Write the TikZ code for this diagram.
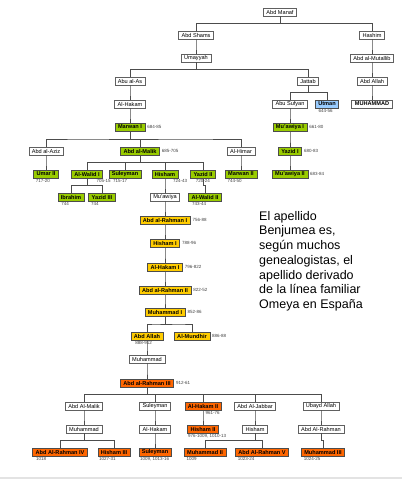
\documentclass[tikz,border=0pt]{standalone}
\usepackage{fontspec}
\setmainfont{Liberation Sans}
\usetikzlibrary{calc}
\definecolor{omeyagreen}{HTML}{99CC00}
\definecolor{emirgold}{HTML}{FFCC00}
\definecolor{califaorange}{HTML}{FF6600}
\definecolor{rashidblue}{HTML}{99CCFF}
\begin{document}
\begin{tikzpicture}[
  x=1pt, y=-1pt,
  person/.style={rectangle, draw=gray!75!black, fill=white, line width=0.5pt,
                 font=\fontsize{5.6}{6}\selectfont, inner xsep=3pt, inner ysep=0pt, minimum height=8pt},
  ruler/.style={person, draw=black!70, font=\fontsize{5.6}{6}\selectfont\bfseries},
  umayyad/.style={ruler, fill=omeyagreen},
  emir/.style={ruler, fill=emirgold},
  caliph/.style={ruler, fill=califaorange},
  rashid/.style={ruler, fill=rashidblue},
  years/.style={font=\fontsize{4.5}{5}\selectfont, text=black!75, inner sep=0.5pt},
  kin/.style={draw=black!70, line width=0.9pt},
  note/.style={font=\fontsize{12.5}{14.7}\selectfont, align=left, inner sep=0pt},
]
\useasboundingbox (0,0) rectangle (402,480);

% --- Quraysh ---
\node[person] (manaf) at (280,12) {Abd Manaf};
\node[person] (shams) at (196,35) {Abd Shams};
\node[person] (hashim) at (372,35) {Hashim};
\node[person] (umayyah) at (196,58) {Umayyah};
\node[person] (mutallib) at (372,58) {Abd al-Mutallib};
\node[person] (abuas) at (130,81) {Abu al-As};
\node[person] (jattab) at (308,81) {Jattab};
\node[person] (abdallahp) at (372,81) {Abd Allah};
\node[person] (hakam) at (130,104) {Al-Hakam};
\node[person] (sufyan) at (290,104) {Abu Sufyan};
\node[rashid] (utman) at (327,104) {Utman};
\node[person, line width=0.8pt, font=\fontsize{5.6}{6}\selectfont\bfseries] (muhammad) at (372,104) {MUHAMMAD};

% --- Omeyas de Damasco ---
\node[umayyad] (marwan1) at (130,127) {Marwan I};
\node[umayyad] (muawiya1) at (290,127) {Mu'awiya I};
\node[person] (abdaziz) at (46,151) {Abd al-Aziz};
\node[umayyad] (malik) at (140,151) {Abd al-Malik};
\node[person] (himar) at (241,151) {Al-Himar};
\node[umayyad] (yazid1) at (290,151) {Yazid I};
\node[umayyad] (umar2) at (46,174) {Umar II};
\node[umayyad] (walid1) at (87,174) {Al-Walid I};
\node[umayyad] (suleyman1) at (125,174) {Suleyman};
\node[umayyad] (hisham) at (165,174) {Hisham};
\node[umayyad] (yazid2) at (203,174) {Yazid II};
\node[umayyad] (marwan2) at (241,174) {Marwan II};
\node[umayyad] (muawiya2) at (290,174) {Mu'awiya II};
\node[umayyad] (ibrahim) at (71,197) {Ibrahim};
\node[umayyad] (yazid3) at (102,197) {Yazid III};
\node[person] (muawiyah) at (165,197) {Mu'awiya};
\node[umayyad] (walid2) at (205,197) {Al-Walid II};

% --- Emires de Córdoba ---
\node[emir] (rahman1) at (165,220) {Abd al-Rahman I};
\node[emir] (hisham1) at (165,243) {Hisham I};
\node[emir] (hakam1) at (165,267) {Al-Hakam I};
\node[emir] (rahman2) at (165,290) {Abd al-Rahman II};
\node[emir] (muhammad1) at (165,312) {Muhammad I};
\node[emir] (abdallahe) at (147,336) {Abd Allah};
\node[emir] (mundhir) at (192,336) {Al-Mundhir};
\node[person] (muhammadb) at (147,359) {Muhammad};

% --- Califas de Córdoba ---
\node[caliph] (rahman3) at (147,383) {Abd al-Rahman III};
\node[person] (malikb) at (84,406) {Abd Al-Malik};
\node[person] (suleymanb) at (155,406) {Suleyman};
\node[caliph] (hakam2) at (203,406) {Al-Hakam II};
\node[person] (jabbar) at (255,406) {Abd Al-Jabbar};
\node[person] (ubayd) at (321,406) {Ubayd Allah};
\node[person] (muhammadc) at (84,429) {Muhammad};
\node[person] (hakamb) at (155,429) {Al-Hakam};
\node[caliph] (hisham2) at (203,429) {Hisham II};
\node[person] (hishamb) at (255,429) {Hisham};
\node[person] (rahmanb) at (321,429) {Abd Al-Rahman};
\node[caliph] (rahman4) at (60,452) {Abd Al-Rahman IV};
\node[caliph] (hisham3) at (114,452) {Hisham III};
\node[caliph] (suleyman2) at (155,452) {Suleyman};
\node[caliph] (muhammad2) at (205,452) {Muhammad II};
\node[caliph] (rahman5) at (262,452) {Abd Al-Rahman V};
\node[caliph] (muhammad3) at (323,452) {Muhammad III};

% reign dates, to the right
\foreach \n/\t in {marwan1/684-85, malik/685-705, muawiya1/661-80, yazid1/680-83, muawiya2/683-84,
                   rahman1/756-88, hisham1/788-96, hakam1/796-822, rahman2/822-52, muhammad1/852-86,
                   mundhir/886-88, rahman3/912-61}
  \node[years, anchor=west] (y-\n) at ([xshift=1.5pt]\n.east) {\t};

% reign dates, underneath
\foreach \n/\s/\t in {utman/3/644-56, umar2/2/717-20, suleyman1/4/715-17, yazid2/5/720-24, marwan2/2/744-50,
                      ibrahim/3/744, yazid3/2/744, walid2/3/743-44, abdallahe/4/888-912, hisham2/0/{976-1009, 1010-13},
                      rahman4/3/1018, hisham3/1/1027-31, suleyman2/1/{1009, 1013-16}, muhammad2/2/1009,
                      rahman5/2/1023-24, muhammad3/2/1024-25}
  \node[years, anchor=north west] (y-\n) at ([xshift=\s pt]\n.south west) {\t};
\node[years, anchor=north west] (y-walid1) at ([xshift=-7pt]walid1.south east) {705-15};
\node[years, anchor=north west] (y-hisham) at ([xshift=-6pt]hisham.south east) {724-43};
\node[years, anchor=north west] (y-hakam2) at ([xshift=2pt]hakam2.south) {961-76};

% descent lines
\foreach \p/\c in {manaf/shams, manaf/hashim, shams/umayyah, hashim/mutallib, mutallib/abdallahp,
                   abdallahp/muhammad, umayyah/abuas, umayyah/jattab, abuas/hakam, hakam/marwan1,
                   jattab/sufyan, jattab/utman, sufyan/muawiya1, muawiya1/yazid1, yazid1/muawiya2,
                   marwan1/abdaziz, marwan1/malik, marwan1/himar, abdaziz/umar2, himar/marwan2,
                   malik/walid1, malik/suleyman1, malik/hisham, malik/yazid2, walid1/ibrahim, walid1/yazid3,
                   hisham/muawiyah, yazid2/walid2, muawiyah/rahman1, rahman1/hisham1, hisham1/hakam1,
                   hakam1/rahman2, rahman2/muhammad1, muhammad1/abdallahe, muhammad1/mundhir,
                   abdallahe/muhammadb, muhammadb/rahman3, rahman3/malikb, rahman3/suleymanb,
                   rahman3/hakam2, rahman3/jabbar, rahman3/ubayd, malikb/muhammadc, suleymanb/hakamb,
                   hakam2/hisham2, jabbar/hishamb, ubayd/rahmanb, muhammadc/rahman4, muhammadc/hisham3,
                   hakamb/suleyman2, hishamb/muhammad2, hishamb/rahman5, rahmanb/muhammad3}
  \draw[kin] (\p.south) |- ($(\p.south)!.5!(\c.north)$) -| (\c.north);

% --- note ---
\node[note, anchor=north west] (apellido) at (259,211)
  {El apellido\\Benjumea es,\\según muchos\\genealogistas, el\\apellido derivado\\de la línea familiar\\Omeya en España};

% bottom rule
\fill[gray!22] (0,476.5) rectangle (402,479);
\end{tikzpicture}
\end{document}
